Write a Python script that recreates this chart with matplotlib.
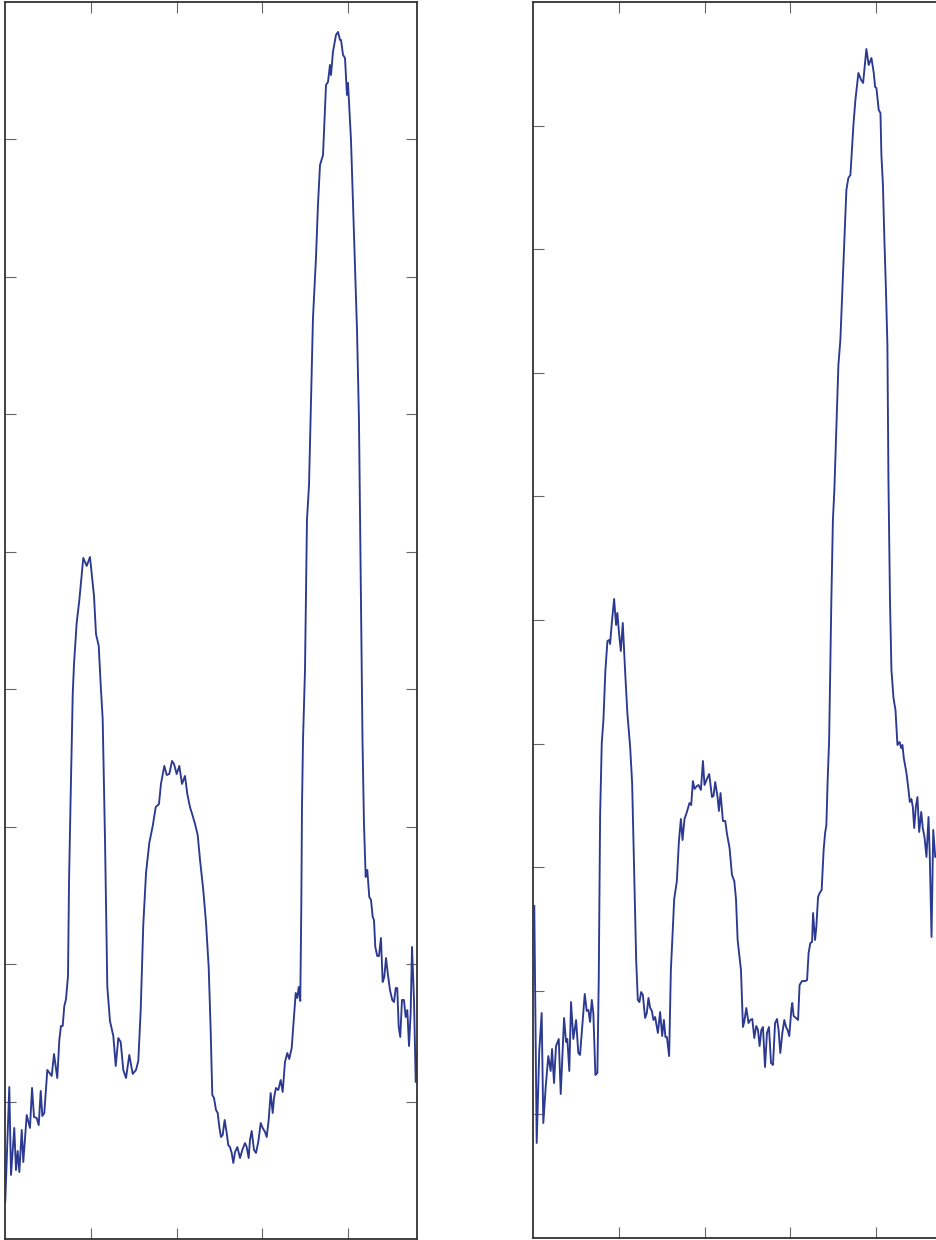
import numpy as np
import matplotlib
matplotlib.use("Agg")
import matplotlib.pyplot as plt

# left spectrum (wavelength, intensity)
wl_left = [400.3, 405.0, 407.0, 410.8, 412.8, 414.8, 416.7, 419.5, 421.3, 425.3,
           429.1, 431.5, 433.8, 436.9, 439.3, 441.6, 443.5, 445.8, 449.3, 454.4,
           457.1, 460.9, 463.3, 465.2, 467.2, 469.1, 471.1, 473.4, 474.6, 476.5,
           478.9, 480.4, 483.5, 486.6, 491.2, 495.2, 499.0, 503.7, 506.0, 509.2,
           511.5, 513.8, 516.5, 519.2, 522.3, 526.2, 529.0, 532.0, 534.8, 537.8,
           541.0, 544.8, 548.8, 552.6, 555.3, 558.1, 561.1, 564.3, 568.1, 572.1,
           575.6, 579.4, 581.7, 585.6, 588.4, 591.4, 594.6, 596.9, 600.0, 603.1,
           606.2, 609.7, 612.4, 615.5, 618.7, 621.4, 624.5, 627.2, 631.0, 634.2,
           637.3, 639.6, 641.5, 643.5, 645.8, 647.8, 649.7, 651.6, 653.6, 655.9,
           658.3, 660.1, 662.1, 664.1, 666.0, 668.0, 670.7, 673.8, 676.5, 679.6,
           681.6, 683.9, 685.4, 687.4, 690.1, 692.4, 695.1, 697.9, 700.2, 702.9,
           704.9, 707.2, 709.5, 711.9, 713.4, 715.7, 718.4, 721.2, 723.5, 726.2,
           728.9, 731.2, 734.0, 736.7, 738.7, 740.5, 742.2, 744.0, 745.2, 746.0,
           747.2, 749.5, 751.8, 754.2, 756.5, 758.8, 762.3, 764.6, 767.0, 770.5,
           774.0, 776.3, 778.6, 779.8, 782.1, 785.6, 788.0, 790.3, 791.5, 793.8,
           796.1, 798.4, 799.6, 803.1, 806.6, 810.1, 812.4, 814.7, 816.5, 818.2,
           820.2, 822.1, 824.4, 826.4, 828.4, 829.9, 831.4, 833.7, 835.7, 838.0,
           840.0, 841.9, 843.9, 845.9, 848.5, 851.2, 853.2, 855.2, 857.0, 858.7,
           860.5, 862.5, 864.8, 866.8, 868.7, 870.7, 872.6, 874.2, 876.5, 878.5,
           880.3]
int_left = [0.0273, 0.1106, 0.0466, 0.0808, 0.0502, 0.0640, 0.0487, 0.0793, 0.0560, 0.0902,
            0.0808, 0.1099, 0.0888, 0.0880, 0.0829, 0.1077, 0.0895, 0.0917, 0.1230, 0.1186,
            0.1346, 0.1171, 0.1448, 0.1550, 0.1550, 0.1695, 0.1746, 0.1914, 0.2598, 0.3223,
            0.3965, 0.4184, 0.4482, 0.4649, 0.4955, 0.4897, 0.4962, 0.4678, 0.4402, 0.4315,
            0.4031, 0.3783, 0.2910, 0.1834, 0.1586, 0.1477, 0.1259, 0.1462, 0.1433, 0.1230,
            0.1171, 0.1339, 0.1201, 0.1230, 0.1295, 0.1666, 0.2285, 0.2663, 0.2881, 0.3005,
            0.3143, 0.3165, 0.3311, 0.3442, 0.3376, 0.3383, 0.3478, 0.3456, 0.3383, 0.3442,
            0.3311, 0.3369, 0.3238, 0.3143, 0.3078, 0.3020, 0.2939, 0.2758, 0.2539, 0.2299,
            0.1979, 0.1521, 0.1048, 0.1026, 0.0939, 0.0917, 0.0815, 0.0742, 0.0757, 0.0866,
            0.0771, 0.0684, 0.0669, 0.0626, 0.0553, 0.0633, 0.0669, 0.0589, 0.0648, 0.0698,
            0.0669, 0.0589, 0.0720, 0.0786, 0.0648, 0.0626, 0.0706, 0.0844, 0.0808, 0.0779,
            0.0742, 0.0866, 0.1062, 0.0917, 0.1026, 0.1099, 0.1084, 0.1157, 0.1070, 0.1288,
            0.1353, 0.1310, 0.1390, 0.1615, 0.1790, 0.1753, 0.1834, 0.1732, 0.2416, 0.3143,
            0.3631, 0.4140, 0.5231, 0.5486, 0.6105, 0.6701, 0.7138, 0.7523, 0.7814, 0.7887,
            0.8396, 0.8418, 0.8542, 0.8469, 0.8637, 0.8760, 0.8782, 0.8724, 0.8724, 0.8615,
            0.8593, 0.8324, 0.8411, 0.7996, 0.7305, 0.6614, 0.5959, 0.4649, 0.3631, 0.3027,
            0.2634, 0.2685, 0.2488, 0.2467, 0.2343, 0.2321, 0.2125, 0.2059, 0.2059, 0.2190,
            0.1870, 0.1906, 0.2045, 0.1935, 0.1812, 0.1739, 0.1724, 0.1826, 0.1826, 0.1542,
            0.1470, 0.1739, 0.1739, 0.1615, 0.1666, 0.1404, 0.1644, 0.2125, 0.1739, 0.1142,
            0.1353]

# right spectrum
wl_right = [401.5, 404.3, 407.3, 410.1, 412.0, 414.8, 417.8, 420.6, 422.2, 424.5,
            426.8, 430.0, 432.3, 436.2, 438.5, 440.0, 442.3, 444.3, 447.0, 450.2,
            452.8, 454.8, 460.3, 462.6, 464.5, 466.5, 468.5, 470.3, 472.7, 475.0,
            476.6, 478.2, 480.1, 482.0, 484.3, 486.7, 488.7, 489.8, 491.8, 494.5,
            496.8, 498.3, 500.3, 502.3, 504.6, 507.3, 510.0, 513.2, 515.5, 517.8,
            520.2, 522.1, 524.0, 526.0, 528.0, 530.6, 532.6, 534.5, 536.5, 538.5,
            540.3, 542.3, 545.5, 548.1, 550.5, 552.5, 554.3, 556.0, 558.6, 560.6,
            563.0, 564.5, 567.6, 570.0, 572.3, 574.2, 576.5, 579.3, 582.3, 584.3,
            586.3, 588.2, 591.0, 592.8, 595.6, 598.0, 599.8, 602.6, 605.3, 608.5,
            610.3, 612.3, 615.0, 616.6, 618.5, 621.3, 624.0, 626.0, 629.0, 631.8,
            634.5, 636.5, 638.4, 642.3, 644.6, 646.1, 648.5, 651.1, 653.1, 655.5,
            657.8, 660.1, 662.1, 664.0, 666.0, 667.9, 670.3, 672.6, 674.9, 677.3,
            679.6, 682.0, 684.3, 686.1, 688.1, 690.5, 692.8, 694.8, 696.6, 698.6,
            701.0, 702.1, 703.6, 706.4, 708.8, 710.6, 713.4, 717.3, 719.3, 721.1,
            723.1, 725.1, 726.3, 728.6, 730.1, 732.1, 734.0, 736.3, 738.6, 740.3,
            741.8, 743.3, 745.0, 747.6, 749.4, 751.1, 753.4, 755.8, 758.1, 760.4,
            762.2, 765.1, 767.4, 769.8, 773.3, 775.6, 779.1, 782.3, 784.6, 786.1,
            788.4, 791.1, 794.3, 797.0, 798.6, 800.1, 802.8, 804.8, 805.9, 807.7,
            809.4, 811.2, 812.9, 814.1, 815.9, 817.6, 820.0, 822.3, 824.6, 827.0,
            829.0, 830.4, 832.0, 835.1, 837.1, 839.0, 840.9, 842.5, 844.1, 846.0,
            847.9, 849.9, 852.3, 854.1, 856.1, 858.4, 860.8, 862.3, 864.3, 866.3,
            868.6, 870.9, 872.4]
int_right = [0.2686, 0.0769, 0.1513, 0.1820, 0.0930, 0.1222, 0.1472, 0.1351, 0.1529, 0.1254,
             0.1553, 0.1610, 0.1165, 0.1780, 0.1586, 0.1610, 0.1351, 0.1909, 0.1610, 0.1764,
             0.1497, 0.1481, 0.1974, 0.1837, 0.1845, 0.1748, 0.1926, 0.1820, 0.1319, 0.1335,
             0.2095, 0.3422, 0.4005, 0.4183, 0.4587, 0.4830, 0.4838, 0.4806, 0.4976, 0.5170,
             0.4960, 0.5057, 0.4887, 0.4749, 0.4976, 0.4587, 0.4239, 0.3972, 0.3681, 0.2977,
             0.2249, 0.1926, 0.1909, 0.1990, 0.1966, 0.1780, 0.1820, 0.1942, 0.1861, 0.1837,
             0.1764, 0.1788, 0.1659, 0.1828, 0.1634, 0.1764, 0.1626, 0.1626, 0.1472, 0.2160,
             0.2508, 0.2743, 0.2888, 0.3212, 0.3390, 0.3220, 0.3390, 0.3447, 0.3519, 0.3503,
             0.3697, 0.3633, 0.3657, 0.3665, 0.3625, 0.3859, 0.3665, 0.3714, 0.3754, 0.3568,
             0.3576, 0.3689, 0.3568, 0.3455, 0.3600, 0.3374, 0.3374, 0.3269, 0.3155, 0.2937,
             0.2888, 0.2743, 0.2411, 0.2168, 0.1707, 0.1748, 0.1861, 0.1739, 0.1764, 0.1772,
             0.1618, 0.1715, 0.1683, 0.1553, 0.1683, 0.1707, 0.1383, 0.1659, 0.1707, 0.1416,
             0.1400, 0.1739, 0.1772, 0.1683, 0.1497, 0.1659, 0.1764, 0.1707, 0.1683, 0.1634,
             0.1853, 0.1901, 0.1796, 0.1780, 0.1764, 0.2047, 0.2079, 0.2079, 0.2087, 0.2306,
             0.2387, 0.2395, 0.2629, 0.2411, 0.2516, 0.2759, 0.2791, 0.2816, 0.3139, 0.3277,
             0.3341, 0.3706, 0.4029, 0.5162, 0.5809, 0.6052, 0.6537, 0.7063, 0.7265, 0.7670,
             0.7994, 0.8479, 0.8576, 0.8600, 0.9005, 0.9207, 0.9426, 0.9369, 0.9345, 0.9450,
             0.9620, 0.9490, 0.9547, 0.9426, 0.9312, 0.9304, 0.9126, 0.9102, 0.8762, 0.8519,
             0.8074, 0.7670, 0.7225, 0.6133, 0.5162, 0.4595, 0.4369, 0.4272, 0.3989, 0.4013,
             0.3964, 0.3989, 0.3883, 0.3762, 0.3649, 0.3528, 0.3552, 0.3487, 0.3317, 0.3487,
             0.3568, 0.3285, 0.3447, 0.3317, 0.3244, 0.3083, 0.3406, 0.3083, 0.2435, 0.3301,
             0.3083, 0.3083, 0.3325]

x_ticks = [500, 600, 700, 800]
y_ticks_left = [0.1, 0.2, 0.3, 0.4, 0.5, 0.6, 0.7, 0.8]
y_ticks_right = [0.1, 0.2, 0.3, 0.4, 0.5, 0.6, 0.7, 0.8, 0.9]

LINE = "#2b3990"

fig = plt.figure(figsize=(9.37, 12.4), dpi=100)
ax1 = fig.add_axes([5 / 937, 1 / 1240, 412 / 937, 1237 / 1240])
ax2 = fig.add_axes([533 / 937, 2 / 1240, 412 / 937, 1236 / 1240])


def style(ax, yt, ymax, right_ticks):
    ax.set_xlim(400, 880)
    ax.set_ylim(0, ymax)
    ax.set_xticks(x_ticks)
    ax.set_yticks(yt)
    ax.tick_params(direction="in", length=8, width=0.8, color="#666666",
                   top=True, right=right_ticks, labelbottom=False, labelleft=False)
    for s in ax.spines.values():
        s.set_color("#333333")
        s.set_linewidth(1.3)


ax1.plot(wl_left, int_left, color=LINE, lw=1.35)
style(ax1, y_ticks_left, 0.9, True)

ax2.plot(wl_right, int_right, color=LINE, lw=1.35)
style(ax2, y_ticks_right, 1.0, False)

fig.savefig("out.png", dpi=100)
